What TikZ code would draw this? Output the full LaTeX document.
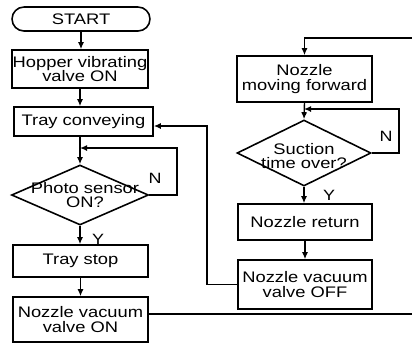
\documentclass[tikz,border=0pt]{standalone}
\usepackage{fontspec}
\setmainfont[FakeStretch=1.2]{Liberation Sans}
\usetikzlibrary{arrows.meta, shapes.geometric, shapes.misc, positioning}

\tikzset{
	flowbox/.style={draw, line width=0.9pt, rectangle, inner sep=0pt, align=center},
	terminal/.style={draw, line width=0.9pt, rounded rectangle, inner sep=0pt},
	decision/.style={draw, line width=0.9pt, diamond, inner sep=0pt},
	decisiontext/.style={align=center, inner sep=0pt},
	flowline/.style={line width=0.8pt, -{Latex[length=4pt,width=3.5pt]}},
	yn/.style={font=\fontsize{8.5}{8}\selectfont}
}

\begin{document}
\begin{tikzpicture}[x=0.02cm, y=-0.02cm, font=\fontsize{8.7}{8.2}\selectfont]
	\useasboundingbox (0,0) rectangle (412,343);
	
	% left column
	\node[terminal, minimum width=2.76cm, minimum height=0.48cm] (start) at (81,19) {START};
	\node[flowbox, minimum width=2.72cm, minimum height=0.76cm] (hopper) at (80,69) {Hopper vibrating\\valve ON};
	\node[flowbox, minimum width=2.78cm, minimum height=0.58cm] (tray) at (83.5,121.5) {Tray conveying};
	\node[decision, minimum width=2.74cm, minimum height=1.2cm] (photo) at (80,195) {};
	\node[decisiontext] (phototext) at ([xshift=0.1cm]photo) {Photo sensor\\ON?};
	\node[flowbox, minimum width=2.7cm, minimum height=0.64cm] (stop) at (80.5,261) {Tray stop};
	\node[flowbox, minimum width=2.7cm, minimum height=0.9cm] (vacon) at (80.5,319.5) {Nozzle vacuum\\valve ON};
	
	% right column
	\node[flowbox, minimum width=2.7cm, minimum height=0.92cm] (forward) at (304.5,79) {Nozzle\\moving forward};
	\node[decision, minimum width=2.68cm, minimum height=1.32cm] (suction) at (304,153) {};
	\node[decisiontext] (suctiontext) at ([yshift=-0.06cm]suction) {Suction\\time over?};
	\node[flowbox, minimum width=2.68cm, minimum height=0.72cm] (return) at (305,222) {Nozzle return};
	\node[flowbox, minimum width=2.68cm, minimum height=0.98cm] (vacoff) at (305,284.5) {Nozzle vacuum\\valve OFF};
	
	% corner points of the loops
	\coordinate (nloopa) at (177,148);
	\coordinate (nloopb) at (399,109);
	\coordinate (edge) at (415,38);
	\coordinate (back) at (207,126);
	
	\draw[flowline] (start.south) -- (start.south |- hopper.north);
	\draw[flowline] (hopper.south) -- (hopper.south |- tray.north);
	\draw[flowline] (hopper.south |- tray.south) -- (photo.north);
	\draw[flowline] (photo.east) -| (nloopa) -- (photo.north |- nloopa);
	\draw[flowline] (photo.south) -- (photo.south |- stop.north);
	\draw[flowline] (stop.south) -- (stop.south |- vacon.north);
	\draw[flowline] (vacon.east |- 0,314) -| (edge) -| (forward.north);
	
	\draw[flowline] (forward.south) -- (suction.north);
	\draw[flowline] (suction.east) -| (nloopb) -- (suction.north |- nloopb);
	\draw[flowline] (suction.south) -- (suction.south |- return.north);
	\draw[flowline] (return.south) -- (return.south |- vacoff.north);
	\draw[flowline] (vacoff.west) -| (back) -- (tray.east |- back);
	
	\node[yn] (photon) at (155,178) {N};
	\node[yn] (photoy) at (98,239) {Y};
	\node[yn] (suctionn) at (386,136) {N};
	\node[yn] (suctiony) at (329,195) {Y};
\end{tikzpicture}
\end{document}
